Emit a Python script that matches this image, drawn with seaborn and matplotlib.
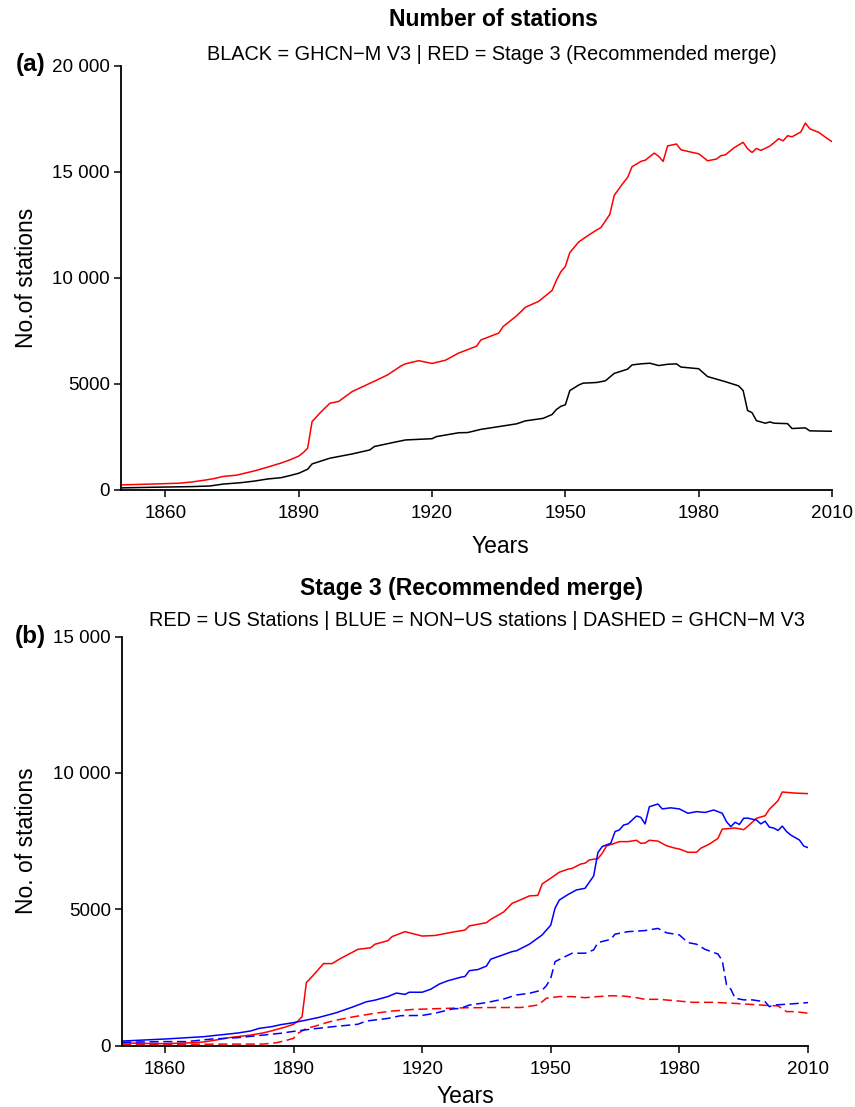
import matplotlib
matplotlib.use("Agg")
import matplotlib.pyplot as plt
import seaborn as sns
import pandas as pd

# ---------------- Panel (a): total station counts ----------------
a_stage3_years = [1850, 1855, 1860, 1863, 1866, 1869, 1871, 1873, 1876, 1880, 1883, 1886,
                  1888, 1890, 1891, 1892, 1893, 1895, 1897, 1899, 1902, 1907, 1910, 1913,
                  1914, 1917, 1920, 1923, 1926, 1929, 1930, 1931, 1935, 1936, 1939, 1941,
                  1944, 1947, 1948, 1949, 1950, 1951, 1953, 1955, 1957, 1958, 1960, 1961,
                  1963, 1964, 1965, 1967, 1968, 1970, 1971, 1972, 1973, 1975, 1976, 1978,
                  1980, 1982, 1984, 1985, 1986, 1988, 1990, 1991, 1992, 1993, 1994, 1996,
                  1997, 1998, 1999, 2000, 2001, 2003, 2004, 2005, 2007, 2009, 2010]
a_stage3_counts = [240, 270, 300, 320, 380, 470, 540, 640, 700, 900, 1080, 1270,
                   1420, 1600, 1760, 1970, 3230, 3680, 4090, 4180, 4640, 5130, 5430, 5850,
                   5950, 6100, 5970, 6120, 6460, 6700, 6780, 7080, 7400, 7710, 8210, 8620,
                   8900, 9410, 9900, 10300, 10550, 11200, 11700, 11990, 12260, 12380, 13000, 13900,
                   14480, 14740, 15250, 15500, 15560, 15890, 15740, 15500, 16230, 16320, 16050, 15950,
                   15860, 15530, 15610, 15770, 15810, 16150, 16400, 16100, 15920, 16110, 16020, 16220,
                   16390, 16570, 16470, 16710, 16660, 16890, 17310, 17040, 16870, 16570, 16430]

a_ghcn_years = [1850, 1860, 1866, 1870, 1873, 1877, 1880, 1883, 1886, 1888, 1890, 1892,
                1893, 1897, 1902, 1906, 1907, 1911, 1914, 1920, 1921, 1926, 1928, 1931,
                1935, 1939, 1941, 1945, 1947, 1948, 1949, 1950, 1951, 1953, 1954, 1957,
                1959, 1961, 1964, 1965, 1967, 1969, 1971, 1973, 1975, 1976, 1980, 1982,
                1986, 1989, 1990, 1991, 1992, 1993, 1995, 1996, 1997, 2000, 2001, 2004,
                2005, 2010]
a_ghcn_counts = [100, 140, 160, 190, 280, 345, 420, 520, 580, 680, 790, 980,
                 1230, 1500, 1700, 1890, 2050, 2230, 2360, 2420, 2520, 2700, 2710, 2860,
                 2990, 3120, 3260, 3380, 3560, 3800, 3950, 4020, 4690, 4950, 5040, 5070,
                 5150, 5500, 5700, 5900, 5950, 5980, 5870, 5930, 5950, 5800, 5720, 5350,
                 5110, 4910, 4690, 3750, 3650, 3270, 3150, 3210, 3150, 3130, 2900, 2930,
                 2790, 2770]

# ---------------- Panel (b): US / non-US split ----------------
us_stage3_years = [1850, 1855, 1860, 1865, 1869, 1872, 1875, 1880, 1883, 1885, 1888, 1890,
                   1891, 1892, 1893, 1895, 1897, 1899, 1901, 1905, 1908, 1909, 1912, 1913,
                   1916, 1918, 1920, 1923, 1927, 1930, 1931, 1935, 1936, 1939, 1941, 1943,
                   1945, 1947, 1948, 1950, 1952, 1954, 1955, 1957, 1958, 1959, 1961, 1962,
                   1963, 1966, 1968, 1970, 1971, 1972, 1973, 1975, 1977, 1979, 1980, 1982,
                   1984, 1985, 1987, 1989, 1990, 1993, 1995, 1996, 1998, 2000, 2001, 2003,
                   2004, 2007, 2010]
us_stage3_counts = [100, 85, 75, 100, 135, 210, 295, 390, 470, 550, 680, 785,
                    900, 1065, 2310, 2650, 3010, 3010, 3200, 3530, 3590, 3720, 3850, 4000,
                    4180, 4100, 4020, 4040, 4160, 4240, 4390, 4510, 4630, 4900, 5220, 5350,
                    5490, 5510, 5930, 6140, 6360, 6470, 6500, 6660, 6690, 6810, 6860, 7050,
                    7320, 7480, 7480, 7530, 7420, 7430, 7530, 7500, 7330, 7240, 7210, 7090,
                    7090, 7240, 7390, 7600, 7940, 7980, 7920, 8050, 8340, 8430, 8670, 8980,
                    9300, 9260, 9240]

nonus_stage3_years = [1850, 1860, 1869, 1877, 1880, 1882, 1885, 1887, 1890, 1893, 1896, 1900,
                      1904, 1907, 1909, 1912, 1914, 1916, 1917, 1920, 1922, 1924, 1926, 1929,
                      1930, 1931, 1933, 1935, 1936, 1941, 1942, 1945, 1948, 1950, 1951, 1952,
                      1954, 1956, 1958, 1960, 1961, 1962, 1964, 1965, 1966, 1967, 1968, 1970,
                      1971, 1972, 1973, 1975, 1976, 1978, 1980, 1982, 1984, 1986, 1988, 1990,
                      1991, 1992, 1993, 1994, 1995, 1996, 1998, 1999, 2000, 2001, 2002, 2003,
                      2004, 2005, 2006, 2008, 2009, 2010]
nonus_stage3_counts = [170, 245, 330, 465, 540, 635, 700, 770, 845, 940, 1040, 1210,
                       1430, 1610, 1670, 1800, 1930, 1880, 1960, 1960, 2070, 2260, 2380, 2510,
                       2540, 2750, 2790, 2920, 3170, 3450, 3480, 3720, 4060, 4420, 5040, 5340,
                       5540, 5710, 5770, 6220, 7080, 7300, 7420, 7850, 7910, 8090, 8130, 8420,
                       8370, 8130, 8760, 8860, 8680, 8720, 8680, 8520, 8580, 8550, 8640, 8520,
                       8210, 8030, 8190, 8110, 8340, 8340, 8270, 8130, 8230, 8010, 7980, 7890,
                       8050, 7850, 7720, 7540, 7320, 7260]

us_ghcn_years = [1850, 1883, 1886, 1888, 1890, 1891, 1893, 1896, 1898, 1901, 1904, 1909,
                 1913, 1918, 1924, 1930, 1937, 1943, 1947, 1949, 1952, 1955, 1958, 1961,
                 1964, 1967, 1970, 1972, 1975, 1979, 1983, 1988, 1993, 1996, 2000, 2003,
                 2005, 2007, 2010]
us_ghcn_counts = [50, 60, 110, 180, 270, 450, 630, 760, 860, 970, 1060, 1190,
                  1270, 1330, 1360, 1390, 1400, 1400, 1490, 1740, 1800, 1800, 1760, 1800,
                  1830, 1820, 1760, 1700, 1700, 1650, 1590, 1590, 1550, 1520, 1480, 1460,
                  1250, 1250, 1190]

nonus_ghcn_years = [1850, 1860, 1865, 1871, 1877, 1883, 1887, 1890, 1895, 1900, 1905, 1907,
                    1912, 1915, 1920, 1923, 1927, 1929, 1931, 1935, 1939, 1942, 1945, 1948,
                    1949, 1950, 1951, 1953, 1955, 1958, 1960, 1961, 1964, 1965, 1968, 1972,
                    1975, 1977, 1980, 1982, 1984, 1986, 1989, 1990, 1991, 1992, 1993, 1995,
                    1997, 2000, 2001, 2002, 2006, 2010]
nonus_ghcn_counts = [125, 150, 150, 245, 295, 390, 455, 525, 625, 710, 785, 905,
                     1000, 1100, 1110, 1190, 1345, 1370, 1490, 1580, 1710, 1860, 1920, 2040,
                     2200, 2470, 3080, 3240, 3390, 3390, 3510, 3780, 3900, 4090, 4180, 4220,
                     4300, 4140, 4060, 3780, 3720, 3530, 3360, 3120, 2230, 2070, 1740, 1680,
                     1680, 1610, 1430, 1490, 1530, 1580]

x_ticks = [1860, 1890, 1920, 1950, 1980, 2010]
a_yticks = [0, 5000, 10000, 15000, 20000]
a_yticklabels = ["0", "5000", "10 000", "15 000", "20 000"]
b_yticks = [0, 5000, 10000, 15000]
b_yticklabels = ["0", "5000", "10 000", "15 000"]


def long_frame(parts):
    frames = []
    for name, yrs, vals in parts:
        frames.append(pd.DataFrame({"year": yrs, "stations": vals, "series": name}))
    return pd.concat(frames, ignore_index=True)


df_a = long_frame([
    ("Stage 3", a_stage3_years, a_stage3_counts),
    ("GHCN-M V3", a_ghcn_years, a_ghcn_counts),
])
df_b = long_frame([
    ("US Stage 3", us_stage3_years, us_stage3_counts),
    ("Non-US Stage 3", nonus_stage3_years, nonus_stage3_counts),
    ("US GHCN-M V3", us_ghcn_years, us_ghcn_counts),
    ("Non-US GHCN-M V3", nonus_ghcn_years, nonus_ghcn_counts),
])

sns.set_theme(style="ticks")
plt.rcParams["font.family"] = ["Liberation Sans", "DejaVu Sans"]
plt.rcParams["axes.unicode_minus"] = True
for key in ("text.color", "axes.labelcolor", "xtick.color", "ytick.color",
            "xtick.labelcolor", "ytick.labelcolor"):
    plt.rcParams[key] = "black"

W, H = 855, 1107
fig = plt.figure(figsize=(W / 100, H / 100), dpi=100)
fig.patch.set_facecolor("white")


def frac_box(x0, y0, x1, y1):
    return [x0 / W, 1 - y1 / H, (x1 - x0) / W, (y1 - y0) / H]


ax_a = fig.add_axes(frac_box(121, 66, 832, 490))
ax_b = fig.add_axes(frac_box(122, 636.5, 808, 1045.7))

LW = 1.1
DASH = (6, 3)

sns.lineplot(data=df_a, x="year", y="stations", hue="series", ax=ax_a,
             palette={"Stage 3": "#ff0000", "GHCN-M V3": "#000000"},
             linewidth=LW, legend=False, estimator=None, sort=True)

sns.lineplot(data=df_b, x="year", y="stations", hue="series", style="series", ax=ax_b,
             palette={"US Stage 3": "#ff0000", "Non-US Stage 3": "#0000ff",
                      "US GHCN-M V3": "#ff0000", "Non-US GHCN-M V3": "#0000ff"},
             dashes={"US Stage 3": "", "Non-US Stage 3": "",
                     "US GHCN-M V3": DASH, "Non-US GHCN-M V3": DASH},
             linewidth=LW, legend=False, estimator=None, sort=True)

TICK_FS = 13.6
LABEL_FS = 16.5

for ax, yt, ytl, ymax, ylab in [
    (ax_a, a_yticks, a_yticklabels, 20000, "No.of stations"),
    (ax_b, b_yticks, b_yticklabels, 15000, "No. of stations"),
]:
    ax.set_xlim(1850, 2010)
    ax.set_ylim(0, ymax)
    ax.set_facecolor("white")
    ax.set_xticks(x_ticks)
    ax.set_xticklabels([str(t) for t in x_ticks])
    ax.set_yticks(yt)
    ax.set_yticklabels(ytl)
    ax.tick_params(axis="both", direction="out", length=5, width=1.1,
                   labelsize=TICK_FS, colors="black")
    ax.tick_params(axis="y", pad=3)
    ax.tick_params(axis="x", pad=6)
    for side in ("top", "right"):
        ax.spines[side].set_visible(False)
    for side in ("left", "bottom"):
        ax.spines[side].set_linewidth(1.3)
        ax.spines[side].set_color("black")
    ax.set_xlabel("Years", fontsize=LABEL_FS, color="black")
    ax.set_ylabel(ylab, fontsize=LABEL_FS, color="black")
    ax.grid(False)

# axis-label placement (axes fraction coordinates)
ax_a.yaxis.set_label_coords(-(121 - 38) / 711, 0.5)
ax_b.yaxis.set_label_coords(-(122 - 38) / 686, 0.5)
ax_a.xaxis.set_label_coords((500 - 121) / 711, -(535 - 490) / 424)
ax_b.xaxis.set_label_coords((465 - 122) / 686, -(1085 - 1045.7) / 409.2)

# titles and subtitles
TITLE_FS = 16.6
SUB_FS = 14.35
fig.text(493 / W, 1 - 20 / H, "Number of stations", ha="center", va="center",
         fontsize=TITLE_FS, fontweight="bold")
fig.text(492 / W, 1 - 55 / H, "BLACK = GHCN\u2212M V3 | RED = Stage 3 (Recommended merge)",
         ha="center", va="center", fontsize=SUB_FS)
fig.text(31 / W, 1 - 65 / H, "(a)", ha="center", va="center", fontsize=17.5, fontweight="bold")

fig.text(471 / W, 1 - 588 / H, "Stage 3 (Recommended merge)", ha="center", va="center",
         fontsize=TITLE_FS, fontweight="bold")
fig.text(477 / W, 1 - 620 / H,
         "RED = US Stations | BLUE = NON\u2212US stations | DASHED = GHCN\u2212M V3",
         ha="center", va="center", fontsize=SUB_FS)
fig.text(30 / W, 1 - 636 / H, "(b)", ha="center", va="center", fontsize=17.5, fontweight="bold")

fig.savefig("out.png", dpi=100, facecolor="white")
